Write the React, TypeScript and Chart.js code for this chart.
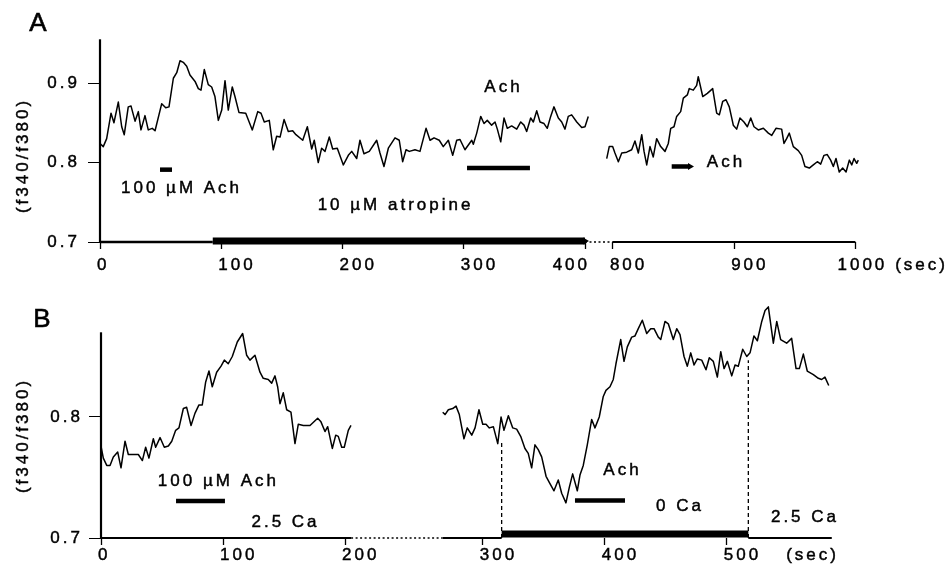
import React, { useEffect, useRef } from 'react';
import { Chart, registerables } from 'chart.js';

Chart.register(...registerables);

const W = 950;
const H = 572;
const FONT = '"Liberation Sans", Arimo, Arial, Helvetica, sans-serif';
const INK = '#000';
const TEXT_STROKE = 0.45;

// ---------------- Panel A data (time in s, ratio f340/f380) ----------------
const A1_TIME = [0,2.7,5.5,9.1,11.5,15.1,17.9,20.0,23.3,25.6,28.9,31.6,33.8,37.1,39.8,43.1,45.4,50.9,54.2,56.9,60.5,63.3,66.0,68.7,71.5,74.2,78.4,81.1,83.3,86.0,89.3,92.1,94.8,97.6,100.4,103.1,105.8,109.1,111.3,114.6,120.2,125.6,130.1,132.8,135.5,139.6,142.9,145.7,148.5,151.8,155.3,158.9,161.6,167.2,171.0,174.6,176.7,180.0,182.8,185.6,189.1,191.9,195.7,200.7,204.8,207.6,211.7,214.4,217.7,222.1,228.2,230.9,234.2,237.8,243.3,246.8,249.6,252.4,255.1,259.8,263.9,268.9,272.2,275.5,279.8,283.1,287.3,290.9,294.2,296.9,301.0,303.8,306.6,307.9,310.7,314.0,316.7,319.4,323.0,325.8,327.7,330.5,333.2,335.9,339.5,343.7,347.0,349.7,351.9,355.2,357.4,360.2,362.9,366.2,368.9,371.7,374.4,378.0,380.8,383.5,386.2,389.0,393.2,397.3,400.0,402.7];
const A1_VALUE = [0.824,0.820,0.830,0.862,0.850,0.876,0.845,0.835,0.870,0.871,0.852,0.864,0.841,0.859,0.841,0.843,0.840,0.874,0.869,0.870,0.906,0.913,0.928,0.926,0.921,0.910,0.902,0.893,0.891,0.917,0.898,0.895,0.883,0.853,0.866,0.903,0.866,0.895,0.883,0.863,0.862,0.841,0.864,0.862,0.851,0.853,0.816,0.833,0.832,0.854,0.839,0.840,0.835,0.828,0.845,0.817,0.828,0.800,0.818,0.814,0.832,0.817,0.818,0.797,0.809,0.814,0.805,0.828,0.811,0.814,0.828,0.812,0.795,0.818,0.831,0.828,0.801,0.816,0.814,0.816,0.814,0.843,0.828,0.831,0.828,0.820,0.828,0.809,0.828,0.829,0.816,0.822,0.828,0.823,0.837,0.858,0.849,0.853,0.847,0.851,0.842,0.826,0.856,0.843,0.846,0.842,0.851,0.847,0.839,0.856,0.851,0.865,0.851,0.849,0.843,0.858,0.870,0.856,0.851,0.842,0.858,0.860,0.851,0.844,0.845,0.858];
const A2_TIME = [794.9,797.0,799.8,801.7,804.5,807.3,811.4,815.5,818.2,821.0,823.8,825.7,827.9,830.6,833.3,836.1,839.4,843.0,845.7,847.7,850.4,852.6,855.9,858.1,861.4,863.0,866.3,869.1,870.4,874.1,877.9,882.3,885.6,887.8,890.6,893.3,896.0,899.3,902.1,904.8,908.1,910.9,913.7,916.4,919.9,924.1,928.2,931.0,934.5,939.2,941.1,943.3,945.5,948.8,952.9,955.7,958.4,962.0,965.3,968.6,971.4,974.1,976.8,979.6,981.8,984.0,986.7,989.5,992.3,995.0,997.0,998.9,1001.1,1002.4];
const A2_VALUE = [0.805,0.820,0.820,0.812,0.801,0.812,0.813,0.816,0.827,0.812,0.835,0.814,0.797,0.820,0.807,0.830,0.820,0.814,0.824,0.843,0.845,0.858,0.864,0.881,0.885,0.893,0.891,0.897,0.908,0.883,0.887,0.893,0.862,0.860,0.877,0.879,0.870,0.847,0.842,0.856,0.851,0.845,0.856,0.845,0.841,0.843,0.837,0.834,0.843,0.842,0.824,0.830,0.837,0.820,0.815,0.809,0.795,0.793,0.797,0.801,0.798,0.809,0.810,0.803,0.795,0.805,0.788,0.793,0.788,0.803,0.797,0.805,0.799,0.803];

const A_X_TICKS = [0, 100, 200, 300, 400, 800, 900, 1000];
const A_Y_TICKS = [0.7, 0.8, 0.9];
const A_ACH_START = [49.5, 302.7, 848.5];
const A_ACH_END = [59.4, 354.6, 863.6];
const A_ACH_LEVEL = [0.791, 0.793, 0.795];
const A_ATROPINE = [93, 400];
const A_AXIS_BREAK = [400, 800];
const A_AXIS_END = 1000;
const A_LABEL_TEXT = ['100 µM Ach', 'Ach', '10 µM atropine', 'Ach', '(sec)'];
const A_LABEL_T = [66, 331.5, 242.5, 892, 1053.3];
const A_LABEL_V = [0.768, 0.895, 0.7465, 0.8006, 0.6711];

// ---------------- Panel B data ----------------
const B1_TIME = [0,1.9,4.7,7.4,10.1,13.7,16.4,19.7,22.4,27.3,30.6,33.9,36.6,39.3,42.9,44.8,48.4,51.9,55.2,58.0,61.2,63.9,67.5,70.2,73.8,77.0,80.3,83.0,85.8,88.5,91.2,94.8,98.4,101.1,104.3,107.6,111.7,116.1,119.4,122.1,126.2,130.3,133.0,137.1,139.9,142.6,144.8,146.7,149.4,152.2,155.7,159.0,161.7,165.8,171.3,177.6,180.3,183.6,185.8,189.6,192.4,194.5,197.3,199.4,202.7,204.9];
const B1_VALUE = [0.776,0.766,0.760,0.760,0.767,0.771,0.758,0.780,0.769,0.769,0.769,0.764,0.775,0.766,0.782,0.775,0.783,0.775,0.776,0.780,0.789,0.791,0.807,0.808,0.793,0.803,0.810,0.810,0.829,0.838,0.825,0.837,0.842,0.847,0.844,0.850,0.862,0.869,0.851,0.847,0.851,0.837,0.832,0.831,0.828,0.834,0.825,0.811,0.820,0.806,0.804,0.778,0.794,0.793,0.793,0.799,0.796,0.788,0.792,0.774,0.785,0.784,0.775,0.775,0.789,0.793];
const B2_TIME = [267.1,269.0,271.7,275.3,278.0,280.7,284.5,287.2,290.9,293.6,296.8,299.9,302.6,305.3,308.6,312.2,314.9,317.3,320.9,324.5,327.7,331.0,334.5,337.2,340.0,342.7,345.4,348.2,351.8,355.0,358.3,361.8,364.6,368.1,370.9,373.6,377.4,379.6,382.3,385.6,389.2,391.9,395.4,398.7,400.9,404.2,406.9,409.1,413.0,415.7,418.4,422.0,424.7,427.4,430.7,434.3,437.6,440.3,443.8,445.8,449.3,452.0,456.1,458.9,461.6,464.9,467.6,470.4,473.1,475.8,479.4,482.9,485.6,488.9,492.2,495.0,497.7,500.4,504.0,506.7,509.4,513.0,516.3,519.0,522.2,525.0,528.6,531.3,534.0,538.1,540.9,544.1,549.0,553.1,556.7,559.4,562.7,565.9,570.9,575.0,577.7,580.4,583.5];
const B2_VALUE = [0.804,0.802,0.806,0.807,0.809,0.802,0.782,0.791,0.785,0.791,0.806,0.794,0.794,0.791,0.792,0.778,0.800,0.789,0.801,0.791,0.790,0.784,0.774,0.770,0.758,0.777,0.773,0.767,0.751,0.745,0.739,0.748,0.737,0.729,0.742,0.753,0.739,0.752,0.760,0.777,0.798,0.791,0.800,0.817,0.822,0.825,0.831,0.844,0.864,0.846,0.858,0.866,0.867,0.873,0.880,0.869,0.873,0.873,0.866,0.864,0.879,0.877,0.864,0.873,0.868,0.850,0.842,0.853,0.843,0.848,0.847,0.839,0.849,0.846,0.833,0.854,0.840,0.846,0.834,0.843,0.842,0.856,0.850,0.853,0.867,0.863,0.879,0.888,0.891,0.861,0.879,0.864,0.861,0.865,0.840,0.840,0.852,0.838,0.835,0.832,0.831,0.833,0.826];

const B_X_TICKS = [0, 100, 200, 300, 400, 500];
const B_Y_TICKS = [0.7, 0.8];
const B_ACH_START = [61.5, 375.5];
const B_ACH_END = [101.6, 416.5];
const B_ACH_LEVEL = [0.7306, 0.731];
const B_ZERO_CA = [315.4, 517.6];
const B_ZERO_CA_MARK_TOP = [0.780, 0.847];
const B_AXIS_BREAK = [205, 267];
const B_AXIS_END = 586;
const B_LABEL_TEXT = ['100 µM Ach', '2.5 Ca', 'Ach', '0 Ca', '2.5 Ca', '(sec)'];
const B_LABEL_T = [95, 150, 413.2, 460.4, 562.8, 569];
const B_LABEL_V = [0.747, 0.7127, 0.756, 0.726, 0.717, 0.686];

// broken time axes -> continuous display coordinate
const mapA = (t: number) => (t <= 600 ? t : t - 377);
const mapB = (t: number) => (t <= 240 ? t : t + 13);

function trace(times: number[], values: number[], map: (t: number) => number) {
  return {
    data: times.map((t, i) => ({ x: map(t), y: values[i] })),
    borderColor: INK,
    borderWidth: 1.5,
    borderJoinStyle: 'round',
    pointRadius: 0,
    tension: 0,
    clip: false,
  };
}

function seg(x0: number, x1: number, y0: number, y1: number, width: number, dash: number[] = [], arrow = false) {
  return {
    data: [{ x: x0, y: y0 }, { x: x1, y: y1 }],
    borderColor: INK,
    borderWidth: width,
    borderDash: dash,
    borderCapStyle: 'butt',
    pointRadius: arrow ? [0, 4] : 0,
    pointStyle: 'triangle',
    rotation: 90,
    pointBackgroundColor: INK,
    pointBorderColor: INK,
    pointBorderWidth: 0,
    tension: 0,
    clip: false,
  };
}

function panelA() {
  const m = mapA;
  const ds: any[] = [
    trace(A1_TIME, A1_VALUE, m),
    trace(A2_TIME, A2_VALUE, m),
    seg(0, 0, 0.7, 0.955, 2.2),
    seg(m(0), m(A_ATROPINE[0]), 0.7, 0.7, 2.5),
    seg(m(A_ATROPINE[0]), m(A_ATROPINE[1]), 0.7012, 0.7012, 7, [], true),
    seg(m(A_AXIS_BREAK[0]), m(A_AXIS_BREAK[1]), 0.7, 0.7, 1.6, [2, 2.5]),
    seg(m(A_AXIS_BREAK[1]), m(A_AXIS_END), 0.7, 0.7, 2),
  ];
  A_ACH_START.forEach((s, i) => {
    ds.push(seg(m(s), m(A_ACH_END[i]), A_ACH_LEVEL[i], A_ACH_LEVEL[i], 4.5, [], i === 2));
  });
  return {
    letter: 'A',
    map: m,
    xMax: 680,
    yMin: 0.7,
    yMax: 0.955,
    area: { left: 100, right: 924.5, top: 39.3, bottom: 242 },
    xTicks: A_X_TICKS,
    xAlign: ['start', 'start', 'start', 'start', 'end', 'start', 'start', 'center'],
    yTicks: A_Y_TICKS,
    xLabelPad: 6,
    yLabelPad: 8,
    datasets: ds,
    labels: A_LABEL_TEXT.map((text, i) => ({ text, t: A_LABEL_T[i], v: A_LABEL_V[i] })),
    titlePos: [23, 157],
    letterPos: [38, 24],
  };
}

function panelB() {
  const m = mapB;
  const ds: any[] = [
    trace(B1_TIME, B1_VALUE, m),
    trace(B2_TIME, B2_VALUE, m),
    seg(0, 0, 0.7, 0.87, 2.2),
    seg(m(0), m(B_AXIS_BREAK[0]), 0.7, 0.7, 2),
    seg(m(B_AXIS_BREAK[0]), m(B_AXIS_BREAK[1]), 0.7, 0.7, 1.6, [2, 2.5]),
    seg(m(B_AXIS_BREAK[1]), m(B_ZERO_CA[0]), 0.7, 0.7, 2),
    seg(m(B_ZERO_CA[0]), m(B_ZERO_CA[1]), 0.7033, 0.7033, 7),
    seg(m(B_ZERO_CA[1]), m(B_AXIS_END), 0.7, 0.7, 2),
    seg(m(B_ZERO_CA[0]), m(B_ZERO_CA[0]), 0.7, B_ZERO_CA_MARK_TOP[0], 1.3, [4, 3]),
    seg(m(B_ZERO_CA[1]), m(B_ZERO_CA[1]), 0.7, B_ZERO_CA_MARK_TOP[1], 1.3, [4, 3]),
  ];
  B_ACH_START.forEach((s, i) => {
    ds.push(seg(m(s), m(B_ACH_END[i]), B_ACH_LEVEL[i], B_ACH_LEVEL[i], 4.5));
  });
  return {
    letter: 'B',
    map: m,
    xMax: 600,
    yMin: 0.7,
    yMax: 0.9,
    area: { left: 101, right: 833, top: 296, bottom: 538 },
    xTicks: B_X_TICKS,
    xAlign: ['start', 'start', 'start', 'start', 'start', 'start'],
    yTicks: B_Y_TICKS,
    xLabelPad: 0,
    yLabelPad: 6,
    datasets: ds,
    labels: B_LABEL_TEXT.map((text, i) => ({ text, t: B_LABEL_T[i], v: B_LABEL_V[i] })),
    titlePos: [23, 437],
    letterPos: [42, 320],
  };
}

const TICK_LEN_X = 7;
const X_AXIS_H = 30;
const LABEL_OFFSET: Record<string, number> = { start: -3, end: 5, center: 7 };

function xAxis(p: any, align: string, main: boolean) {
  const tickTimes: number[] = main ? p.xTicks : p.xTicks.filter((_t: number, i: number) => p.xAlign[i] === align);
  return {
    type: 'linear',
    axis: 'x',
    position: main ? 'bottom' : { y: p.yMin },
    min: 0,
    max: p.xMax,
    afterFit: (s: any) => {
      s.height = main ? X_AXIS_H : 0;
    },
    afterBuildTicks: (s: any) => {
      s.ticks = tickTimes.map((t) => ({ value: p.map(t) }));
    },
    ticks: {
      autoSkip: false,
      maxRotation: 0,
      minRotation: 0,
      align,
      labelOffset: LABEL_OFFSET[align],
      color: INK,
      textStrokeColor: INK,
      textStrokeWidth: TEXT_STROKE,
      font: { family: FONT, size: 17 },
      padding: main ? p.xLabelPad : p.xLabelPad + TICK_LEN_X,
      callback: (_v: any, i: number) => {
        const t = tickTimes[i];
        if (main && p.xAlign[p.xTicks.indexOf(t)] !== 'start') return '';
        return String(t);
      },
    },
    grid: main
      ? { drawOnChartArea: false, drawTicks: true, tickLength: TICK_LEN_X, tickColor: INK, tickWidth: 1.3 }
      : { display: false, drawTicks: false, drawOnChartArea: false },
    border: { display: false },
  };
}

function createPanel(canvas: HTMLCanvasElement, p: any) {
  const textPlugin = {
    id: 'panelText' + p.letter,
    beforeDraw(chart: any) {
      chart.ctx.letterSpacing = '3px';
    },
    afterDraw(chart: any) {
      const ctx = chart.ctx;
      const xs = chart.scales.x;
      const ys = chart.scales.y;
      const put = (text: string, x: number, y: number) => {
        ctx.fillText(text, x, y);
        ctx.strokeText(text, x, y);
      };
      ctx.save();
      ctx.fillStyle = INK;
      ctx.strokeStyle = INK;
      ctx.lineWidth = TEXT_STROKE;
      ctx.textAlign = 'center';
      ctx.textBaseline = 'middle';
      ctx.font = `17px ${FONT}`;
      ctx.letterSpacing = '3px';
      p.labels.forEach((l: any) => {
        put(l.text, xs.getPixelForValue(p.map(l.t)) + 1.5, ys.getPixelForValue(l.v));
      });
      ctx.save();
      ctx.translate(p.titlePos[0], p.titlePos[1]);
      ctx.rotate(-Math.PI / 2);
      put('(f340/f380)', 1.5, 0);
      ctx.restore();
      ctx.letterSpacing = '0px';
      ctx.font = `26px ${FONT}`;
      ctx.lineWidth = 0.6;
      put(p.letter, p.letterPos[0], p.letterPos[1]);
      ctx.restore();
    },
  };

  const scales: any = { x: xAxis(p, 'start', true) };
  ['end', 'center'].forEach((a) => {
    if (p.xAlign.includes(a)) scales['x_' + a] = xAxis(p, a, false);
  });
  scales.y = {
    type: 'linear',
    axis: 'y',
    position: 'left',
    min: p.yMin,
    max: p.yMax,
    afterFit: (s: any) => {
      s.width = p.area.left;
    },
    afterBuildTicks: (s: any) => {
      s.ticks = p.yTicks.map((v: number) => ({ value: v }));
    },
    ticks: {
      color: INK,
      textStrokeColor: INK,
      textStrokeWidth: TEXT_STROKE,
      font: { family: FONT, size: 17 },
      padding: p.yLabelPad,
      callback: (v: any) => Number(v).toFixed(1),
    },
    grid: {
      drawOnChartArea: false,
      drawTicks: true,
      tickLength: 12,
      tickColor: INK,
      tickWidth: 1,
    },
    border: { display: false },
  };

  return new Chart(canvas, {
    type: 'line',
    data: { datasets: p.datasets },
    plugins: [textPlugin],
    options: {
      responsive: false,
      animation: false,
      devicePixelRatio: 1,
      events: [],
      layout: {
        padding: {
          left: 0,
          right: W - p.area.right,
          top: p.area.top,
          bottom: H - p.area.bottom - X_AXIS_H,
        },
      },
      plugins: {
        legend: { display: false },
        tooltip: { enabled: false },
        title: { display: false },
      },
      scales,
    } as any,
  } as any);
}

export default function App() {
  const refA = useRef<HTMLCanvasElement>(null);
  const refB = useRef<HTMLCanvasElement>(null);

  useEffect(() => {
    const ca = createPanel(refA.current as HTMLCanvasElement, panelA());
    const cb = createPanel(refB.current as HTMLCanvasElement, panelB());
    return () => {
      ca.destroy();
      cb.destroy();
    };
  }, []);

  return (
    <div style={{ position: 'absolute', left: 0, top: 0, width: W, height: H, background: '#fff', overflow: 'hidden' }}>
      <canvas ref={refA} width={W} height={H} style={{ position: 'absolute', left: 0, top: 0 }} />
      <canvas ref={refB} width={W} height={H} style={{ position: 'absolute', left: 0, top: 0 }} />
    </div>
  );
}
